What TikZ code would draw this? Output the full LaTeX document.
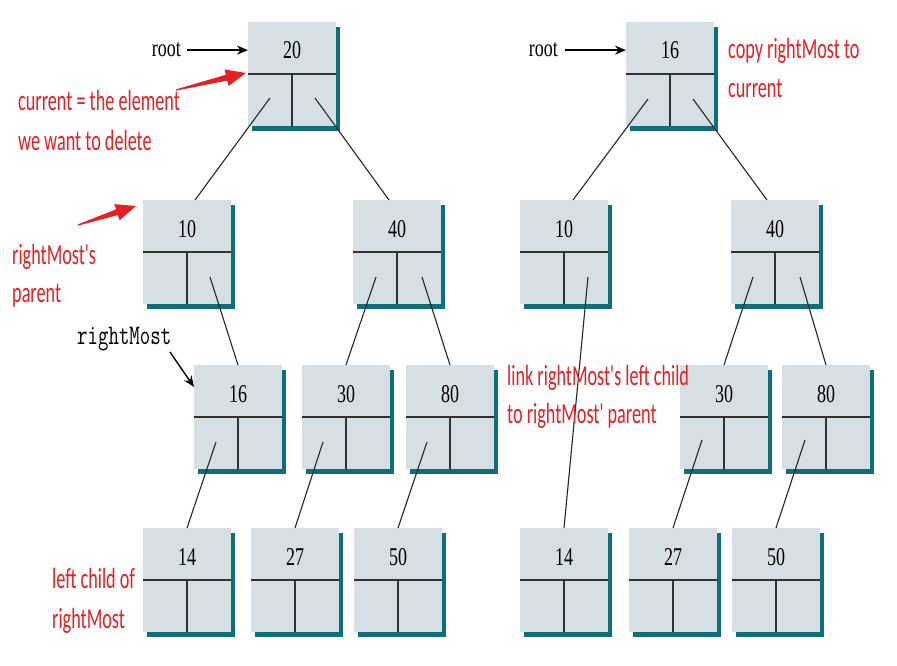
\documentclass[tikz,border=0pt]{standalone}
\usepackage{fontspec}
\setmainfont{Liberation Serif}
\newfontfamily\redfont{Carlito}
\usepackage{graphicx}
\usetikzlibrary{arrows.meta,calc}
\definecolor{cellfill}{RGB}{214,223,227}
\definecolor{shadowc}{RGB}{16,110,120}
\definecolor{linec}{RGB}{50,50,50}
\definecolor{annot}{RGB}{228,32,36}
\newcommand{\vst}[2]{\scalebox{1}[#1]{#2}}
\tikzset{
 cell/.style={fill=cellfill, minimum width=88pt, minimum height=104pt, inner sep=0pt, outer sep=0pt},
 divl/.style={draw=linec, line width=1.8pt},
 vl/.style={draw=linec, line width=1.2pt},
 num/.style={font=\fontsize{18}{20}\selectfont, anchor=base, inner sep=0pt},
 edge/.style={draw=black!85, line width=1.1pt},
 redtxt/.style={font=\redfont\fontsize{18.2}{20}\selectfont, text=annot, anchor=base west, inner sep=0pt},
 blacktxt/.style={font=\fontsize{18}{20}\selectfont, anchor=base east, inner sep=0pt},
 monotxt/.style={font=\ttfamily\fontsize{20.3}{22}\selectfont, anchor=base west, inner sep=0pt},
 ptr/.style={draw=black, line width=1.4pt, -{Stealth[length=11pt,width=9pt]}},
}
\newcommand{\bst}[4]{%
 \fill[shadowc] (#2-40,#3+5) rectangle (#2+47.5,#3+109);
 \node[cell] (#1) at (#2,#3+52) {};
 \draw[divl] (#1.west) -- (#1.east);
 \draw[vl] (#1.center) -- (#1.south);
 \node[num] (#1l) at (#2,#3+37) {\vst{1.42}{#4}};
}
\newcommand{\redarrow}[2]{%
 \path ($(#2)!20pt!(#1)$) coordinate (hb);
 \fill[annot] ($(#1)!0.6pt!90:(#2)$) -- ($(hb)!3pt!-90:(#1)$) -- ($(hb)!8.5pt!-90:(#1)$) -- (#2)
   -- ($(hb)!8.5pt!90:(#1)$) -- ($(hb)!3pt!90:(#1)$) -- ($(#1)!0.6pt!-90:(#2)$) -- cycle;
}
\begin{document}
\begin{tikzpicture}[x=1pt,y=-1pt]
\useasboundingbox (0,0) rectangle (897,666);
\fill[white] (0,0) rectangle (897,666);

% ---------- left tree ----------
\bst{L20}{292}{22}{20}
\bst{L10}{187}{200}{10}
\bst{L40}{397}{200}{40}
\bst{L16}{238}{365}{16}
\bst{L30}{346}{365}{30}
\bst{L80}{450}{365}{80}
\bst{L14}{187}{528}{14}
\bst{L27}{295}{528}{27}
\bst{L50}{398}{528}{50}

\draw[edge] ([xshift=-22pt,yshift=28pt]L20.south) -- ([xshift=8pt]L10.north);
\draw[edge] ([xshift=23pt,yshift=28pt]L20.south) -- ([xshift=-8pt]L40.north);
\draw[edge] ([xshift=23pt,yshift=27pt]L10.south) -- (L16.north);
\draw[edge] ([xshift=-21pt,yshift=27pt]L40.south) -- (L30.north);
\draw[edge] ([xshift=25pt,yshift=27pt]L40.south) -- (L80.north);
\draw[edge] ([xshift=-22pt,yshift=27pt]L16.south) -- (L14.north);
\draw[edge] ([xshift=-23pt,yshift=27pt]L30.south) -- (L27.north);
\draw[edge] ([xshift=-23pt,yshift=27pt]L80.south) -- (L50.north);

% ---------- right tree ----------
\bst{R16}{670}{22}{16}
\bst{R10}{564}{200}{10}
\bst{R40}{775}{200}{40}
\bst{R30}{724}{365}{30}
\bst{R80}{826}{365}{80}
\bst{R14}{564}{528}{14}
\bst{R27}{673}{528}{27}
\bst{R50}{776}{528}{50}

\draw[edge] ([xshift=-22pt,yshift=27pt]R16.south) -- ([xshift=9pt]R10.north);
\draw[edge] ([xshift=23pt,yshift=27pt]R16.south) -- ([xshift=-8pt]R40.north);
\draw[edge] ([xshift=24pt,yshift=27pt]R10.south) -- (R14.north);
\draw[edge] ([xshift=-22pt,yshift=27pt]R40.south) -- (R30.north);
\draw[edge] ([xshift=25pt,yshift=27pt]R40.south) -- (R80.north);
\draw[edge] ([xshift=-22pt,yshift=29pt]R30.south) -- (R27.north);
\draw[edge] ([xshift=-21pt,yshift=29pt]R80.south) -- (R50.north);

% ---------- pointers ----------
\node[blacktxt] (root1) at (181,57) {\vst{1.38}{root}};
\draw[ptr] ([xshift=6pt]root1.east) -- (L20.west |- root1.east);
\node[blacktxt] (root2) at (558,57) {\vst{1.38}{root}};
\draw[ptr] ([xshift=7pt]root2.east) -- (R16.west |- root2.east);

\node[monotxt] (rm) at (77,344) {\vst{1.4}{rightMost}};
\coordinate (rmstart) at (170,352);
\draw[ptr] (rmstart) -- ([yshift=-22pt]L16.north west);

% ---------- annotations ----------
\coordinate (a1t) at (176,90);
\coordinate (a1h) at (246,73);
\redarrow{a1t}{a1h}
\coordinate (a2t) at (78,225);
\coordinate (a2h) at (136,206);
\redarrow{a2t}{a2h}

\node[redtxt] (c1) at (18,111) {\vst{1.6}{current = the element}};
\node[redtxt] (c2) at (18,151) {\vst{1.6}{we want to delete}};
\node[redtxt] (p1) at (12,264) {\vst{1.6}{rightMost's}};
\node[redtxt] (p2) at (12,302) {\vst{1.6}{parent}};
\node[redtxt] (l1) at (52,588) {\vst{1.6}{left child of}};
\node[redtxt] (l2) at (52,628) {\vst{1.6}{rightMost}};
\node[redtxt] (k1) at (728,59) {\vst{1.6}{copy rightMost to}};
\node[redtxt] (k2) at (728,98) {\vst{1.6}{current}};
\node[redtxt] (m1) at (507,385) {\vst{1.6}{link rightMost's left child}};
\node[redtxt] (m2) at (507,423) {\vst{1.6}{to rightMost' parent}};
\end{tikzpicture}
\end{document}
